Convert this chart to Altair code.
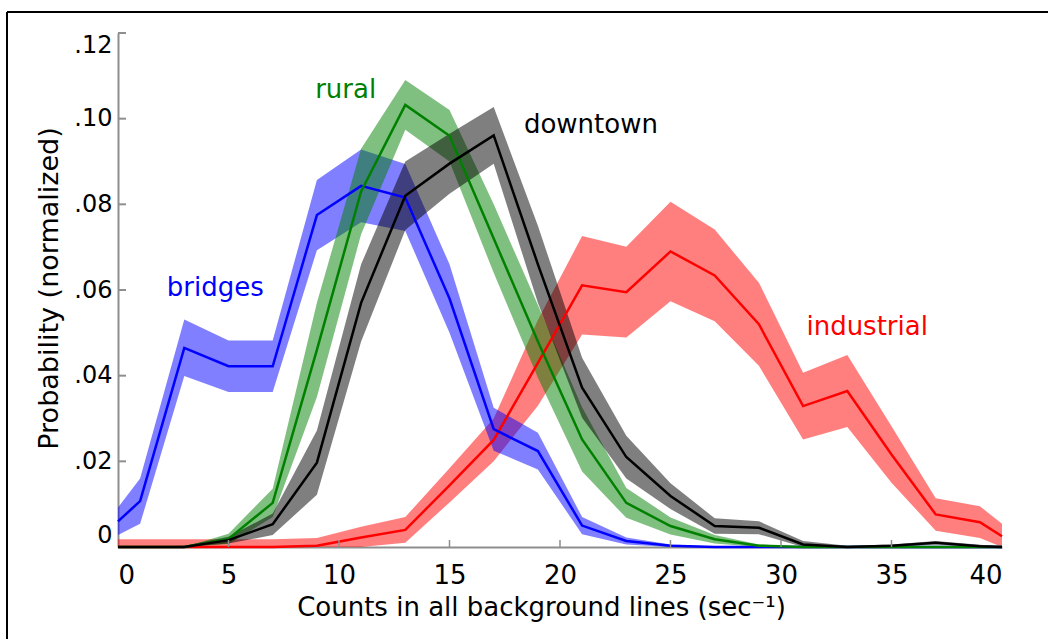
import altair as alt
import pandas as pd

# Bin centres of the count-rate histograms (counts per second)
counts = [0, 1, 3, 5, 7, 9, 11, 13, 15, 17, 19, 21, 23, 25, 27, 29, 31, 33, 35, 37, 39, 40]

# Normalised probability per environment, with the half-width of its shaded band
bridges = [0.0060, 0.0107, 0.0465, 0.0422, 0.0422, 0.0775, 0.0843, 0.0816, 0.0580, 0.0275, 0.0224,
           0.0050, 0.0014, 0.0003, 0, 0, 0, 0, 0, 0, 0, 0]
bridges_err = [0.0032, 0.0053, 0.0066, 0.0060, 0.0060, 0.0082, 0.0085, 0.0078, 0.0080, 0.0050, 0.0043,
               0.0020, 0.0008, 0.0003, 0.0001, 0, 0, 0, 0, 0, 0, 0]

rural = [0, 0, 0, 0.0019, 0.0103, 0.0460, 0.0830, 0.1032, 0.0960, 0.0720, 0.0480,
         0.0251, 0.0103, 0.0049, 0.0018, 0.0003, 0, 0, 0, 0, 0, 0]
rural_err = [0, 0, 0, 0.0012, 0.0033, 0.0110, 0.0100, 0.0058, 0.0060, 0.0080, 0.0085,
             0.0075, 0.0035, 0.0020, 0.0010, 0.0003, 0, 0, 0, 0, 0, 0]

downtown = [0, 0, 0, 0.0016, 0.0053, 0.0197, 0.0570, 0.0820, 0.0895, 0.0961, 0.0660,
            0.0372, 0.0210, 0.0119, 0.0049, 0.0045, 0.0006, 0, 0.0003, 0.0010, 0.0002, 0]
downtown_err = [0, 0, 0.0003, 0.0008, 0.0025, 0.0075, 0.0090, 0.0080, 0.0070, 0.0066, 0.0090,
                0.0070, 0.0050, 0.0030, 0.0018, 0.0015, 0.0008, 0.0003, 0.0003, 0.0004, 0.0003, 0.0002]

industrial = [0, 0, 0, 0, 0, 0.0003, 0.0022, 0.0040, 0.0144, 0.0250, 0.0430,
              0.0611, 0.0595, 0.0690, 0.0634, 0.0520, 0.0329, 0.0364, 0.0216, 0.0076, 0.0058, 0.0025]
industrial_err = [0.0018, 0.0018, 0.0018, 0.0018, 0.0018, 0.0018, 0.0025, 0.0030, 0.0040, 0.0050, 0.0100,
                  0.0115, 0.0106, 0.0116, 0.0107, 0.0097, 0.0078, 0.0084, 0.0066, 0.0038, 0.0037, 0.0029]

series = {
    "industrial": (industrial, industrial_err),
    "bridges": (bridges, bridges_err),
    "rural": (rural, rural_err),
    "downtown": (downtown, downtown_err),
}
names = ["industrial", "bridges", "rural", "downtown"]
line_colors = ["#ff0000", "#0000ff", "#008000", "#000000"]
band_colors = ["#ff0000", "#0000ff", "#008000", "#000000"]

# Label anchors in data units (count rate, probability)
label_x = [33.9, 4.4, 10.3, 21.4]
label_y = [0.0494, 0.0585, 0.1049, 0.0967]

y_ticks = [0.0, 0.02, 0.04, 0.06, 0.08, 0.10, 0.12]
x_ticks = [0, 5, 10, 15, 20, 25, 30, 35, 40]

rows = []
for name in names:
    vals, errs = series[name]
    for c, v, e in zip(counts, vals, errs):
        rows.append({"env": name, "x": c, "y": v, "lo": max(0.0, v - e), "hi": v + e})
df = pd.DataFrame(rows)

labels = pd.DataFrame({"env": names, "x": label_x, "y": label_y})

FONT = "DejaVu Sans"
W, H = 884, 514

xscale = alt.Scale(domain=[0, 40], nice=False, zero=False)
yscale = alt.Scale(domain=[0, 0.12], nice=False, zero=False)

xaxis = alt.Axis(
    values=x_ticks, ticks=False, grid=False, domainColor="#8e8e8e", domainWidth=2,
    labelFont=FONT, labelFontSize=26, labelColor="#000000", labelPadding=36,
    labelBaseline="alphabetic",
    title="Counts in all background lines (sec⁻¹)", titleFont=FONT, titleFontSize=26,
    titleFontWeight="normal", titleColor="#000000", titleX=423, titleY=68,
    titleBaseline="alphabetic", titleAlign="center",
)
yaxis = alt.Axis(
    values=y_ticks, ticks=False, grid=False, domainColor="#8e8e8e", domainWidth=2,
    labelFont=FONT, labelFontSize=24, labelColor="#000000", labelPadding=6,
    labelFlush=True,
    labelExpr="datum.value == 0 ? '0' : replace(format(datum.value, '.2f'), '0.', '.')",
    title="Probability (normalized)", titleFont=FONT, titleFontSize=27,
    titleFontWeight="normal", titleColor="#000000", titleX=-61, titleY=255,
    titleAngle=270, titleBaseline="alphabetic", titleAlign="center",
)

base = alt.Chart(df)

layers = []
# Shaded bands first, in drawing order
for name, col in zip(names, band_colors):
    layers.append(
        base.transform_filter(alt.datum.env == name)
        .mark_area(color=col, opacity=0.5, interpolate="linear")
        .encode(
            x=alt.X("x:Q", scale=xscale, axis=xaxis),
            y=alt.Y("lo:Q", scale=yscale, axis=yaxis),
            y2="hi:Q",
        )
    )
# Mean curves on top
for name, col in zip(names, line_colors):
    layers.append(
        base.transform_filter(alt.datum.env == name)
        .mark_line(color=col, strokeWidth=2.5)
        .encode(x=alt.X("x:Q", scale=xscale), y=alt.Y("y:Q", scale=yscale))
    )

# Inward-pointing tick marks on both axes
yt = alt.Chart(pd.DataFrame({"v": y_ticks[1:]})).mark_rule(color="#8e8e8e", strokeWidth=2).encode(
    y=alt.Y("v:Q", scale=yscale), x=alt.value(0), x2=alt.value(8)
)
xt = alt.Chart(pd.DataFrame({"v": x_ticks[1:-1]})).mark_rule(color="#8e8e8e", strokeWidth=1.5).encode(
    x=alt.X("v:Q", scale=xscale), y=alt.value(H), y2=alt.value(H - 7)
)

text = alt.Chart(labels).mark_text(
    font=FONT, fontSize=26, align="center", baseline="alphabetic"
).encode(
    x=alt.X("x:Q", scale=xscale),
    y=alt.Y("y:Q", scale=yscale),
    text="env:N",
    color=alt.Color("env:N", scale=alt.Scale(domain=names, range=line_colors), legend=None),
)

# Outer frame lines
frame_top = alt.Chart(pd.DataFrame({"k": [0]})).mark_rule(color="#000000", strokeWidth=2).encode(
    x=alt.value(-111), x2=alt.value(W + 60), y=alt.value(-21)
)
frame_left = alt.Chart(pd.DataFrame({"k": [0]})).mark_rule(color="#000000", strokeWidth=2).encode(
    x=alt.value(-111), y=alt.value(-21), y2=alt.value(H + 100)
)

chart = alt.layer(*layers, yt, xt, text, frame_top, frame_left).properties(
    width=W, height=H,
    autosize=alt.AutoSizeParams(type="none"),
    padding={"left": 118, "top": 33, "right": 46, "bottom": 92},
    background="#ffffff",
).configure_view(stroke=None)

chart.save("out.html", embed_options={"renderer": "svg", "actions": False})
